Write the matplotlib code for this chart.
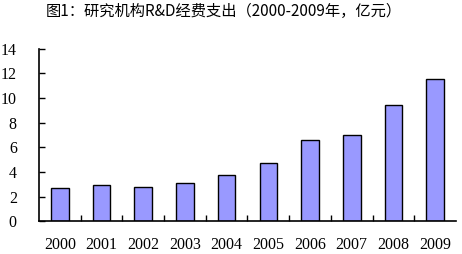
import matplotlib
matplotlib.use("Agg")
import matplotlib.pyplot as plt
import numpy as np

years = ['2000', '2001', '2002', '2003', '2004', '2005', '2006', '2007', '2008', '2009']
spending = [2.68, 2.92, 2.76, 3.08, 3.73, 4.70, 6.57, 6.97, 9.46, 11.52]
title = '图1：研究机构R&D经费支出（2000-2009年，亿元）'

plt.rcParams['font.family'] = ['Liberation Serif', 'Noto Sans CJK SC']

fig = plt.figure(figsize=(4.62, 2.54), dpi=100)
ax = fig.add_axes([0.0844, 0.1287, 0.9026, 0.6796])

x = np.arange(len(years))
ax.bar(x, spending, width=0.42, color='#9999FF', edgecolor='black', linewidth=1.0)

ax.set_xlim(-0.5, len(years) - 0.5)
ax.set_ylim(0, 14)
ax.set_yticks(range(0, 15, 2))

# categories are labelled at the centre, ticks sit between them
ax.set_xticks(x)
ax.set_xticklabels(years)
ax.set_xticks(np.arange(0.5, len(years) - 0.5, 1), minor=True)
ax.tick_params(axis='x', which='major', length=0, pad=11, labelsize=11.5)
ax.tick_params(axis='x', which='minor', direction='in', length=4, width=1)
ax.tick_params(axis='y', direction='in', length=4, width=1, pad=16, labelsize=11.5)

for side in ['top', 'right']:
    ax.spines[side].set_visible(False)
ax.spines['left'].set_linewidth(1.2)
ax.spines['bottom'].set_linewidth(1.2)

fig.text(0.485, 0.953, title, ha='center', va='center', fontsize=11,
         family=['Noto Sans CJK SC', 'DejaVu Sans'])

fig.savefig('out.png', dpi=100)
